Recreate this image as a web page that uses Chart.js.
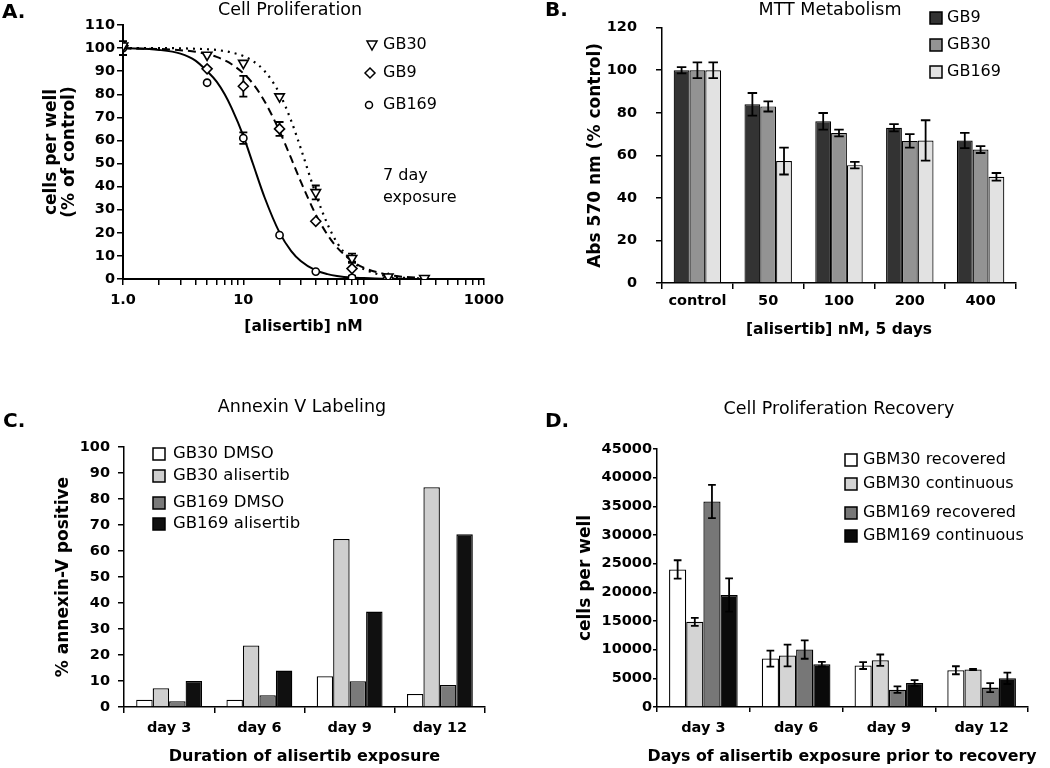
<!DOCTYPE html>
<html>
<head>
<meta charset="utf-8">
<title>alisertib panels</title>
<script src="https://cdn.jsdelivr.net/npm/chart.js@4.4.1/dist/chart.umd.min.js"></script>
<style>
    body { margin: 0; background: #fff; }
    #fig { position: relative; width: 1050px; height: 768px; }
    #fig canvas { position: absolute; }
</style>
</head>
<body>
<div id="fig">
    <canvas id="chartA" width="520" height="345" style="left:0px;top:0px"></canvas>
    <canvas id="chartB" width="530" height="345" style="left:520px;top:0px"></canvas>
    <canvas id="chartC" width="520" height="418" style="left:0px;top:350px"></canvas>
    <canvas id="chartD" width="530" height="418" style="left:520px;top:350px"></canvas>
</div>
<script>
// -- A. cell proliferation, 7 day exposure --
const doses = [1, 5, 10, 20, 40, 80, 160, 320];
const gb30 = [101, 97, 93.5, 79, 37.5, 9, 1, 0.3];
const gb30Err = [0, 0, 0, 0, 3, 2, 0, 0];
const gb9 = [101, 91, 83.5, 65, 25, 4.5, 0.3, null];
const gb9Err = [0, 0, 4.5, 3, 0, 3, 0, 0];
const gb169 = [100, 85, 61, 19, 3.2, 0.5, null, null];
const gb169Err = [3, 0, 2.5, 0, 0, 0, 0, 0];

// fitted curves
const fitDoses = [1, 2, 3, 4, 5, 6, 7, 8, 10, 12, 15, 20, 25, 30, 40, 50, 60, 80, 100, 150, 200, 320];
const fitGb30 = [100, 100, 99.9, 99.7, 99.5, 99.2, 98.7, 98.1, 96.6, 94.4, 90.1, 80.3, 68.5, 56.6, 36.8, 23.8, 15.8, 7.7, 4.3, 1.4, 0.6, 0.2];
const fitGb9 = [99.9, 99.6, 99.1, 98.4, 97.4, 96.2, 94.7, 93.0, 89.1, 84.6, 77.0, 64.0, 52.2, 42.2, 27.9, 19.2, 13.7, 7.8, 4.9, 2.1, 1.1, 0.4];
const fitGb169 = [100, 99.2, 97.6, 94.6, 90.0, 85.5, 80.0, 74.0, 62.0, 50.0, 35.4, 20.1, 12.1, 7.8, 3.7, 2.1, 1.3, 0.6, 0.4, 0.1, 0.1, 0];

const logTicks = [1, 2, 3, 4, 5, 6, 7, 8, 9, 10, 20, 30, 40, 50, 60, 70, 80, 90, 100, 200, 300, 400, 500, 600, 700, 800, 900, 1000];
const logMajor = [1, 10, 100, 1000];
const logMajorLabels = ['1.0', '10', '100', '1000'];

// -- B. MTT metabolism, 5 days --
const mttLabels = ['control', '50', '100', '200', '400'];
const mttGb9 = [100, 84, 76, 73, 67];
const mttGb9Err = [1.5, 5.3, 3.9, 1.7, 3.6];
const mttGb30 = [100, 83, 70.5, 66.8, 62.7];
const mttGb30Err = [3.7, 2.4, 1.6, 3.2, 1.6];
const mttGb169 = [100, 57.3, 55.4, 67, 49.9];
const mttGb169Err = [3.7, 6.3, 1.5, 9.5, 1.8];

// -- C. annexin V labeling --
const days = ['day 3', 'day 6', 'day 9', 'day 12'];
const annGb30Dmso = [2.8, 2.8, 11.8, 5.0];
const annGb30Ali = [7.2, 23.7, 64.6, 84.5];
const annGb169Dmso = [2.2, 4.5, 9.9, 8.5];
const annGb169Ali = [10.0, 14.0, 36.7, 66.4];

// -- D. proliferation recovery --
const recGbm30Rec = [24000, 8450, 7230, 6410];
const recGbm30RecErr = [1600, 1400, 600, 700];
const recGbm30Cont = [14860, 8970, 8160, 6530];
const recGbm30ContErr = [700, 1900, 1000, 100];
const recGbm169Rec = [35840, 10020, 3030, 3380];
const recGbm169RecErr = [2900, 1600, 550, 800];
const recGbm169Cont = [19520, 7460, 4200, 5010];
const recGbm169ContErr = [2900, 400, 500, 1000];

// colours
const cDark = '#333333', cMid = '#939393', cLight = '#e2e2e2';
const cWhite = '#ffffff', cGrey = '#cfcfcf', cSlate = '#7a7a7a', cBlack = '#101010';

Chart.defaults.font.family = '"DejaVu Sans", sans-serif';
Chart.defaults.color = '#000';
Chart.defaults.animation = false;
Chart.defaults.plugins.legend.display = false;
Chart.defaults.plugins.tooltip.enabled = false;

const tickFont = { size: 14.5, weight: 'bold' };

// --> error bars, drawn from the y scale <--
function errPlugin(errs, cap, under)
{
    const draw = (chart) => {
        const ctx = chart.ctx;
        ctx.save();
        ctx.strokeStyle = '#000';
        ctx.lineWidth = 1.8;
        errs.forEach((err, i) => {
            if (!err) return;
            const meta = chart.getDatasetMeta(i);
            const ys = chart.scales[meta.yAxisID];
            meta.data.forEach((el, j) => {
                const e = err[j];
                const raw = chart.data.datasets[i].data[j];
                if (!e || raw == null) return;
                const v = (typeof raw === 'object') ? raw.y : raw;
                if (v == null) return;
                const top = ys.getPixelForValue(v + e);
                const bot = ys.getPixelForValue(v - e);
                const half = el.width ? el.width * cap / 2 : cap / 2;
                ctx.beginPath();
                ctx.moveTo(el.x, top); ctx.lineTo(el.x, bot);
                ctx.moveTo(el.x - half, top); ctx.lineTo(el.x + half, top);
                ctx.moveTo(el.x - half, bot); ctx.lineTo(el.x + half, bot);
                ctx.stroke();
            });
        });
        ctx.restore();
    };
    return under ? { id: 'errBars', beforeDatasetsDraw: draw } : { id: 'errBars', afterDatasetsDraw: draw };
}

// --> free text: panel letters, titles, legend labels <--
function textPlugin(items)
{
    return { id: 'panelText', afterDraw(chart) {
        const ctx = chart.ctx;
        ctx.save();
        ctx.fillStyle = '#000';
        ctx.textBaseline = 'middle';
        for (let t of items)
        {
            ctx.font = (t.bold ? 'bold ' : '') + t.size + 'px "DejaVu Sans", sans-serif';
            ctx.textAlign = t.align || 'left';
            ctx.fillText(t.text, t.x, t.y);
        }
        ctx.restore();
    }};
}

// --> legend keys <--
function keyPlugin(keys)
{
    return { id: 'keys', afterDraw(chart) {
        const ctx = chart.ctx;
        ctx.save();
        ctx.strokeStyle = '#000';
        ctx.lineWidth = 1.5;
        for (let k of keys)
        {
            ctx.beginPath();
            if (k.shape == 'box') ctx.rect(k.x, k.y - 6, 12, 12);
            else if (k.shape == 'tri') { ctx.moveTo(k.x - 5, k.y - 4); ctx.lineTo(k.x + 5, k.y - 4); ctx.lineTo(k.x, k.y + 5); ctx.closePath(); }
            else if (k.shape == 'dia') { ctx.moveTo(k.x, k.y - 5); ctx.lineTo(k.x + 5, k.y); ctx.lineTo(k.x, k.y + 5); ctx.lineTo(k.x - 5, k.y); ctx.closePath(); }
            else ctx.arc(k.x, k.y, 3.5, 0, Math.PI * 2);
            ctx.fillStyle = k.fill || '#fff';
            ctx.fill();
            ctx.stroke();
        }
        ctx.restore();
    }};
}

function axisStyle(tl, lw)
{
    return {
        border: { color: '#000', width: lw },
        grid: { drawOnChartArea: false, color: '#000', lineWidth: 1.5, tickLength: tl }
    };
}

const pts = (xs, ys) => xs.map((x, i) => ({ x: x, y: ys[i] }));

// ---------------- A ----------------
const markerBase = { borderColor: '#000', backgroundColor: '#fff', borderWidth: 1.6 };
const fitBase = { showLine: true, pointRadius: 0, borderColor: '#000', borderWidth: 2, cubicInterpolationMode: 'monotone', fill: false };

new Chart(document.getElementById('chartA'), {
    type: 'scatter',
    data: {
        datasets: [
            { ...markerBase, label: 'GB30', data: pts(doses, gb30), pointStyle: 'triangle', pointRotation: 180, pointRadius: 5.5 },
            { ...markerBase, label: 'GB9', data: pts(doses, gb9), pointStyle: 'rectRot', pointRadius: 5 },
            { ...markerBase, label: 'GB169', data: pts(doses, gb169), pointStyle: 'circle', pointRadius: 3.6 },
            { ...fitBase, data: pts(fitDoses, fitGb30), borderDash: [2, 5], borderWidth: 2.2 },
            { ...fitBase, data: pts(fitDoses, fitGb9), borderDash: [8, 5] },
            { ...fitBase, data: pts(fitDoses, fitGb169) }
        ]
    },
    options: {
        responsive: false,
        layout: { padding: { left: 0, top: 25, right: 36, bottom: 0 } },
        scales: {
            x: {
                type: 'logarithmic', min: 1, max: 1000,
                ...axisStyle(6, 2),
                afterBuildTicks: s => { s.ticks = logTicks.map(v => ({ value: v })); },
                afterFit: s => { s.height = 66; },
                ticks: {
                    autoSkip: false, maxRotation: 0, padding: 7, font: tickFont,
                    callback: v => { const k = logMajor.indexOf(v); return k < 0 ? '' : logMajorLabels[k]; }
                },
                title: { display: true, text: '[alisertib] nM', font: { size: 15.5, weight: 'bold' }, padding: { top: 0, bottom: 9 } }
            },
            y: {
                min: 0, max: 110,
                ...axisStyle(6, 2),
                afterFit: s => { s.width = 123; },
                ticks: { stepSize: 10, padding: 2, font: tickFont, callback: v => String(v) },
                title: { display: true, text: ['cells per well', '(% of control)'], font: { size: 17, weight: 'bold', lineHeight: 1.06 }, padding: { top: 43, bottom: 0 } }
            }
        }
    },
    plugins: [
        errPlugin([gb30Err, gb9Err, gb169Err], 8, true),
        textPlugin([
            { text: 'A.', x: 2, y: 13, size: 20, bold: true },
            { text: 'Cell Proliferation', x: 290, y: 10, size: 17.5, align: 'center' },
            { text: 'GB30', x: 383, y: 45, size: 16 },
            { text: 'GB9', x: 383, y: 73, size: 16 },
            { text: 'GB169', x: 383, y: 105, size: 16 },
            { text: '7 day', x: 383, y: 176, size: 16 },
            { text: 'exposure', x: 383, y: 198, size: 16 }
        ]),
        keyPlugin([
            { shape: 'tri', x: 372, y: 45 },
            { shape: 'dia', x: 370, y: 73 },
            { shape: 'circ', x: 369, y: 105 }
        ])
    ]
});

// ---------------- B ----------------
const barBase = { borderColor: '#000', borderWidth: 1.2, categoryPercentage: 0.67, barPercentage: 1 };

new Chart(document.getElementById('chartB'), {
    type: 'bar',
    data: {
        labels: mttLabels,
        datasets: [
            { ...barBase, label: 'GB9', data: mttGb9, backgroundColor: cDark },
            { ...barBase, label: 'GB30', data: mttGb30, backgroundColor: cMid },
            { ...barBase, label: 'GB169', data: mttGb169, backgroundColor: cLight }
        ]
    },
    options: {
        responsive: false,
        layout: { padding: { left: 0, top: 13, right: 34, bottom: 0 } },
        scales: {
            x: {
                ...axisStyle(6, 1.5),
                afterFit: s => { s.height = 62; },
                ticks: { padding: 4, font: tickFont },
                title: { display: true, text: '[alisertib] nM, 5 days', font: { size: 15.5, weight: 'bold' }, padding: { top: 0, bottom: 6 } }
            },
            y: {
                min: 0, max: 120,
                ...axisStyle(6, 1.5),
                afterFit: s => { s.width = 142; },
                ticks: { stepSize: 20, padding: 19, font: tickFont, callback: v => String(v) },
                title: { display: true, text: 'Abs 570 nm (% control)', font: { size: 17, weight: 'bold' }, padding: { top: 65, bottom: 0 } }
            }
        }
    },
    plugins: [
        errPlugin([mttGb9Err, mttGb30Err, mttGb169Err], 0.6, false),
        textPlugin([
            { text: 'B.', x: 25, y: 11, size: 20, bold: true },
            { text: 'MTT Metabolism', x: 310, y: 10, size: 17.5, align: 'center' },
            { text: 'GB9', x: 427, y: 18, size: 16 },
            { text: 'GB30', x: 427, y: 45, size: 16 },
            { text: 'GB169', x: 427, y: 72, size: 16 }
        ]),
        keyPlugin([
            { shape: 'box', x: 410, y: 18, fill: cDark },
            { shape: 'box', x: 410, y: 45, fill: cMid },
            { shape: 'box', x: 410, y: 72, fill: cLight }
        ])
    ]
});

// ---------------- C ----------------
const barC = { borderColor: '#000', borderWidth: 1.3, categoryPercentage: 0.73, barPercentage: 1 };

new Chart(document.getElementById('chartC'), {
    type: 'bar',
    data: {
        labels: days,
        datasets: [
            { ...barC, label: 'GB30 DMSO', data: annGb30Dmso, backgroundColor: cWhite },
            { ...barC, label: 'GB30 alisertib', data: annGb30Ali, backgroundColor: cGrey },
            { ...barC, label: 'GB169 DMSO', data: annGb169Dmso, backgroundColor: cSlate },
            { ...barC, label: 'GB169 alisertib', data: annGb169Ali, backgroundColor: cBlack }
        ]
    },
    options: {
        responsive: false,
        layout: { padding: { left: 0, top: 97, right: 35, bottom: 0 } },
        scales: {
            x: {
                ...axisStyle(6, 1.5),
                afterFit: s => { s.height = 61; },
                ticks: { padding: 7, font: tickFont },
                title: { display: true, text: 'Duration of alisertib exposure', font: { size: 16, weight: 'bold' }, padding: { top: 0, bottom: 2 } }
            },
            y: {
                min: 0, max: 100,
                ...axisStyle(6, 1.5),
                afterFit: s => { s.width = 124; },
                ticks: { stepSize: 10, padding: 8, font: tickFont, callback: v => String(v) },
                title: { display: true, text: '% annexin-V positive', font: { size: 17, weight: 'bold' }, padding: { top: 53, bottom: 0 } }
            }
        }
    },
    plugins: [
        textPlugin([
            { text: 'C.', x: 3, y: 72, size: 20, bold: true },
            { text: 'Annexin V Labeling', x: 302, y: 57, size: 17.5, align: 'center' },
            { text: 'GB30 DMSO', x: 173, y: 104, size: 16.5 },
            { text: 'GB30 alisertib', x: 173, y: 126, size: 16.5 },
            { text: 'GB169 DMSO', x: 173, y: 153, size: 16.5 },
            { text: 'GB169 alisertib', x: 173, y: 174, size: 16.5 }
        ]),
        keyPlugin([
            { shape: 'box', x: 153, y: 104, fill: cWhite },
            { shape: 'box', x: 153, y: 126, fill: cGrey },
            { shape: 'box', x: 153, y: 153, fill: cSlate },
            { shape: 'box', x: 153, y: 174, fill: cBlack }
        ])
    ]
});

// ---------------- D ----------------
const barD = { borderColor: '#000', borderWidth: 1.3, categoryPercentage: 0.74, barPercentage: 1 };
const dWhite = '#ffffff', dGrey = '#d4d4d4', dSlate = '#777777', dBlack = '#0a0a0a';

new Chart(document.getElementById('chartD'), {
    type: 'bar',
    data: {
        labels: days,
        datasets: [
            { ...barD, label: 'GBM30 recovered', data: recGbm30Rec, backgroundColor: dWhite },
            { ...barD, label: 'GBM30 continuous', data: recGbm30Cont, backgroundColor: dGrey },
            { ...barD, label: 'GBM169 recovered', data: recGbm169Rec, backgroundColor: dSlate },
            { ...barD, label: 'GBM169 continuous', data: recGbm169Cont, backgroundColor: dBlack }
        ]
    },
    options: {
        responsive: false,
        layout: { padding: { left: 0, top: 99, right: 22, bottom: 0 } },
        scales: {
            x: {
                ...axisStyle(5, 1.5),
                afterFit: s => { s.height = 61; },
                ticks: { padding: 8, font: tickFont }
            },
            y: {
                min: 0, max: 45000,
                ...axisStyle(4, 1.5),
                afterFit: s => { s.width = 137; },
                ticks: { stepSize: 5000, padding: 1, font: tickFont, callback: v => String(v) },
                title: { display: true, text: 'cells per well', font: { size: 17, weight: 'bold' }, padding: { top: 55, bottom: 0 } }
            }
        }
    },
    plugins: [
        errPlugin([recGbm30RecErr, recGbm30ContErr, recGbm169RecErr, recGbm169ContErr], 0.45, false),
        textPlugin([
            { text: 'D.', x: 25, y: 72, size: 20, bold: true },
            { text: 'Cell Proliferation Recovery', x: 319, y: 59, size: 17.5, align: 'center' },
            { text: 'Days of alisertib exposure prior to recovery', x: 322, y: 407, size: 15.8, bold: true, align: 'center' },
            { text: 'GBM30 recovered', x: 343, y: 110, size: 16 },
            { text: 'GBM30 continuous', x: 343, y: 134, size: 16 },
            { text: 'GBM169 recovered', x: 343, y: 163, size: 16 },
            { text: 'GBM169 continuous', x: 343, y: 186, size: 16 }
        ]),
        keyPlugin([
            { shape: 'box', x: 325, y: 110, fill: dWhite },
            { shape: 'box', x: 325, y: 134, fill: dGrey },
            { shape: 'box', x: 325, y: 163, fill: dSlate },
            { shape: 'box', x: 325, y: 186, fill: dBlack }
        ])
    ]
});
</script>
</body>
</html>
